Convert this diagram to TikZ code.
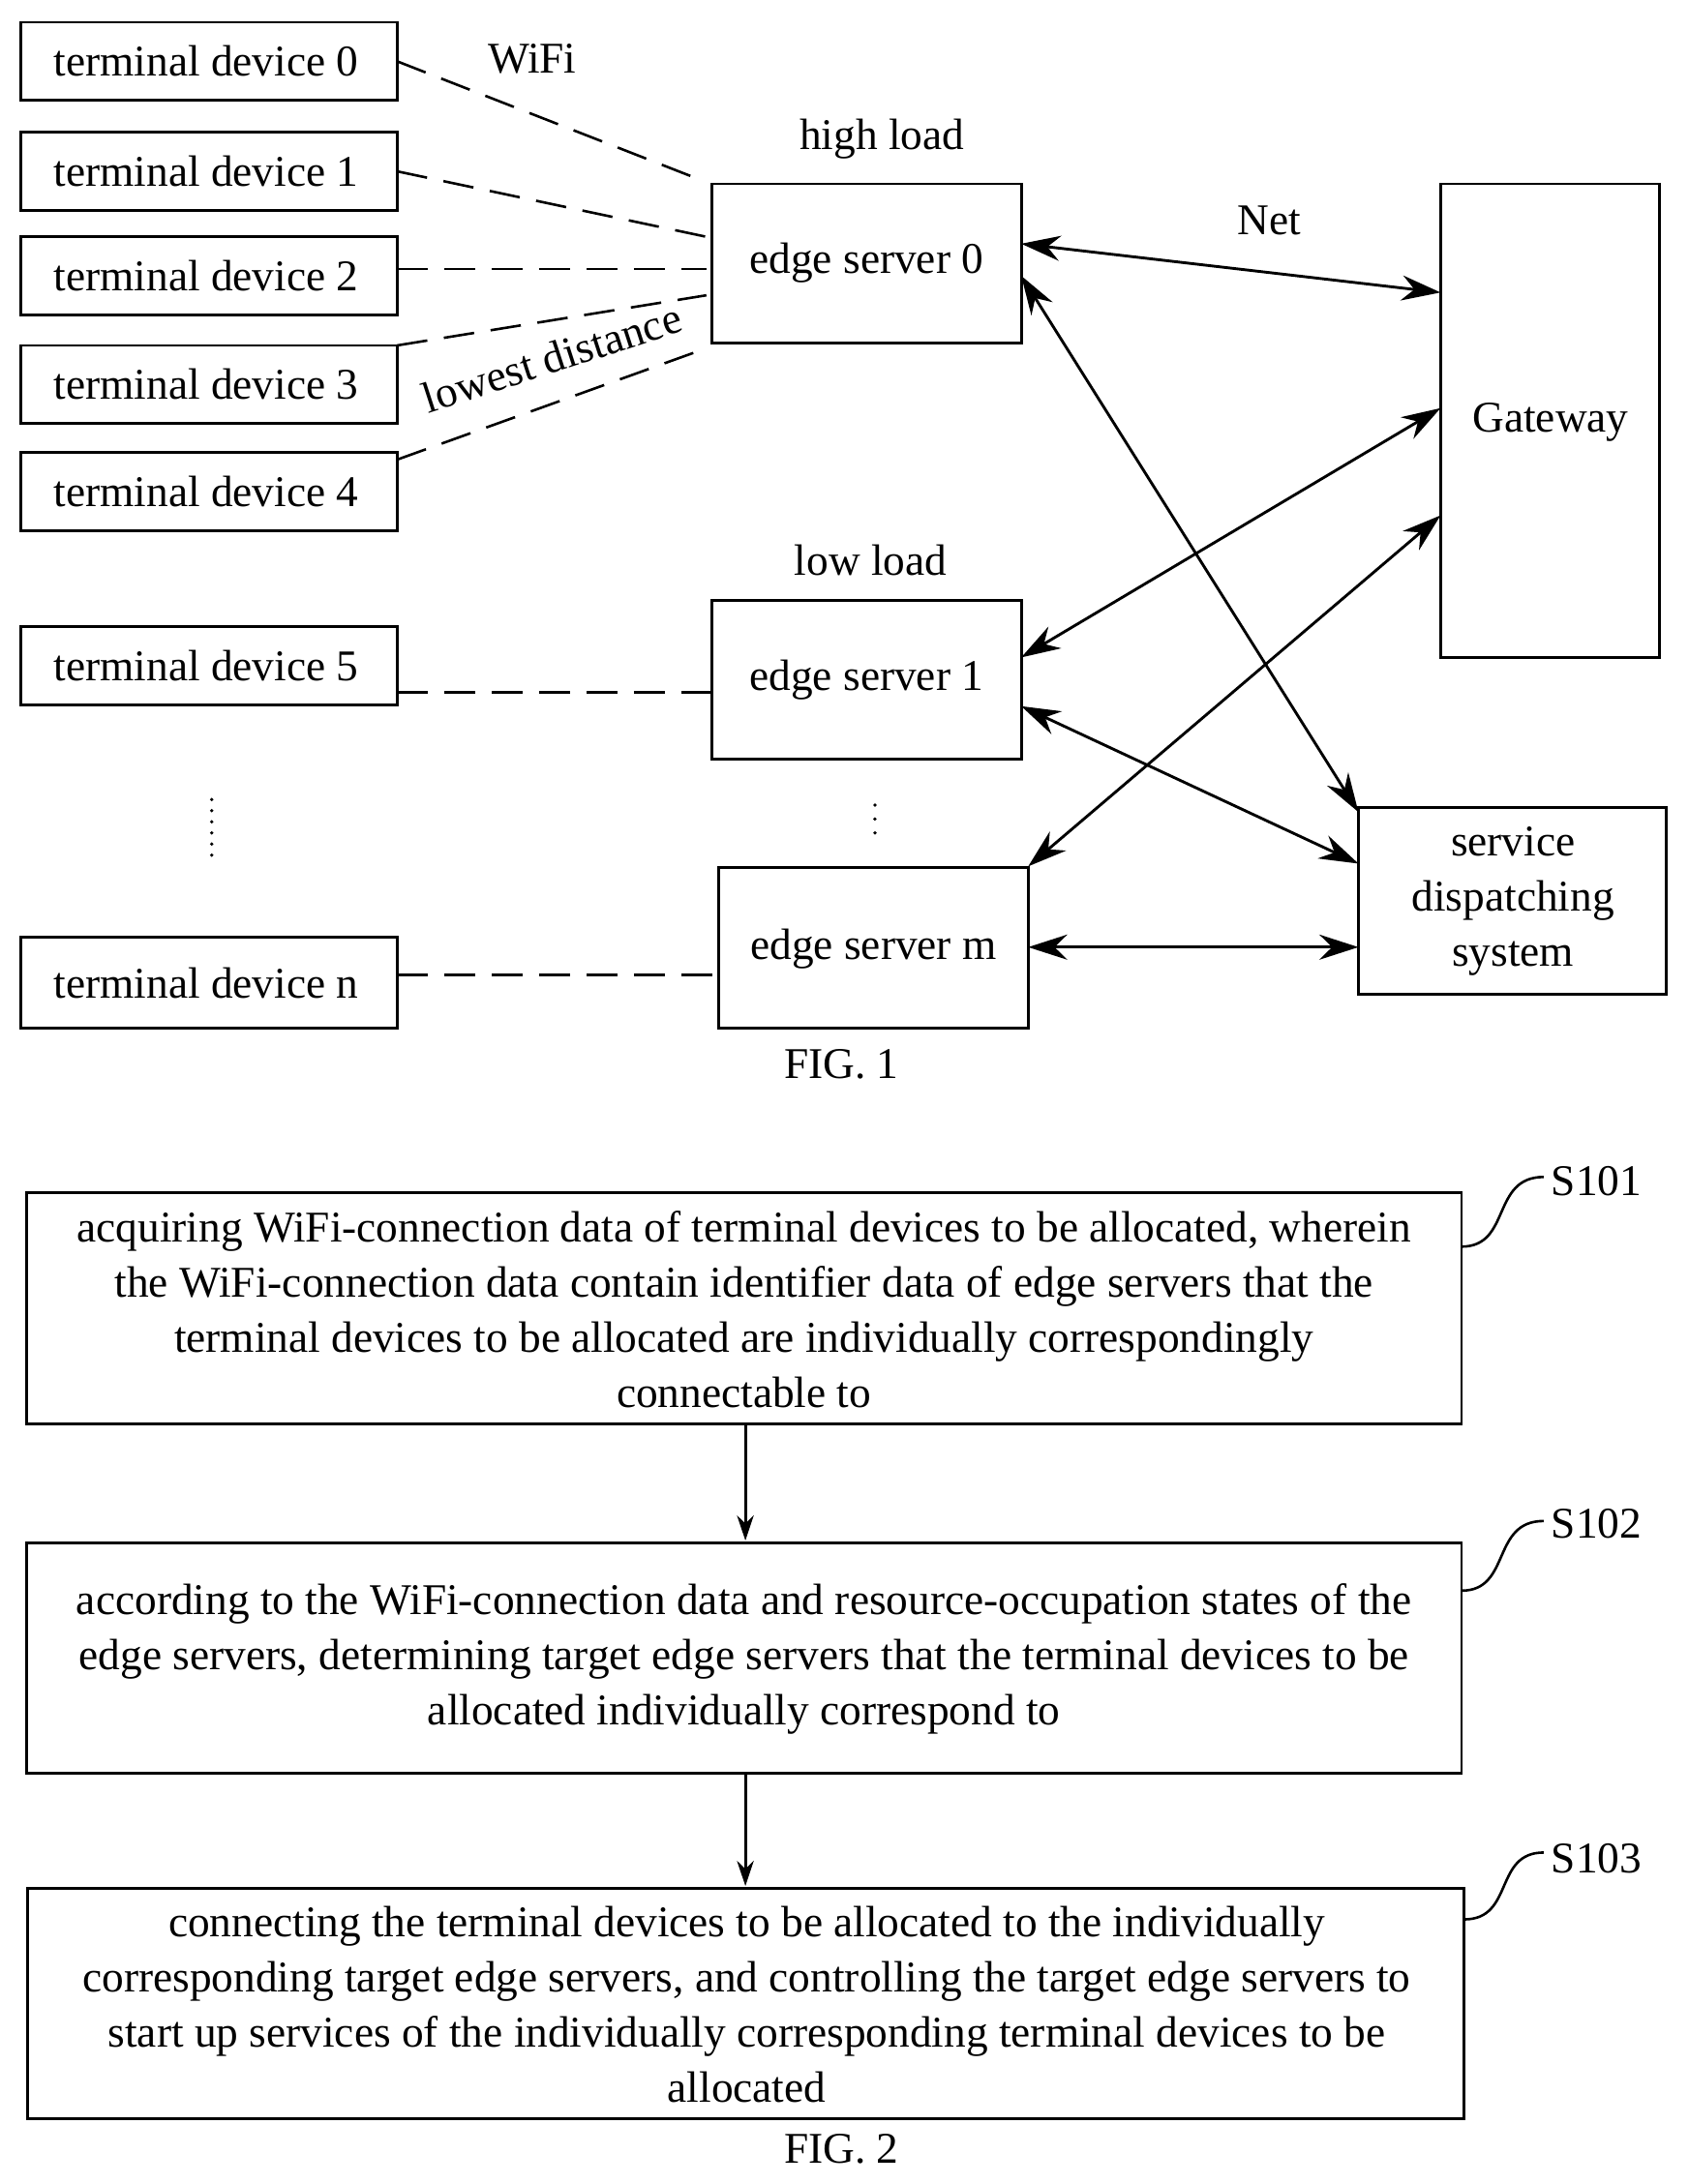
\documentclass[tikz,border=0pt]{standalone}
\usepackage{fontspec}
\setmainfont{Liberation Serif}
\usetikzlibrary{arrows.meta}
\begin{document}
\begin{tikzpicture}[x=1pt,y=-1pt,
  box/.style={draw,line width=2pt,inner sep=0pt},
  txt/.style={font=\fontsize{31.5}{39.5}\selectfont,align=center,inner sep=0pt},
  wdash/.style={line width=1.8pt,dash pattern=on 22pt off 12pt},
  dbl/.style={line width=2pt,{Stealth[length=28pt,width=18pt]}-{Stealth[length=28pt,width=18pt]}},
  arr/.style={line width=2pt,-{Stealth[length=18pt,width=12pt]}}]
\useasboundingbox (0,0) rectangle (1212,1568);
% terminal devices
\foreach \n/\a/\b in {0/16/72,1/95/151,2/170/226,3/248/304,4/325/381,5/450/506,n/673/738}{
  \draw[box] (15,\a) rectangle (285,\b);
  \node[txt] (td\n) at (148,{(\a+\b)/2}) {terminal device \n};
}
% edge servers
\draw[box] (511,132) rectangle (733,246); \node[txt] (es0) at (622,189) {edge server 0};
\draw[box] (511,431) rectangle (733,545); \node[txt] (es1) at (622,488) {edge server 1};
\draw[box] (516,623) rectangle (738,738); \node[txt] (esm) at (627,681) {edge server m};
\draw[box] (1034,132) rectangle (1191,472); \node[txt] (gw) at (1113,303) {Gateway};
\draw[box] (975,580) rectangle (1196,714); \node[txt] (sds) at (1086,647) {service\\dispatching\\system};
% dashed
\coordinate (a0) at (285,44); \coordinate (b0) at (505,130);
\coordinate (a1) at (285,123); \coordinate (b1) at (507,170);
\coordinate (a2) at (285,193); \coordinate (b2) at (507,193);
\coordinate (a3) at (285,248); \coordinate (b3) at (507,212);
\coordinate (a4) at (285,330); \coordinate (b4) at (507,250);
\coordinate (a5) at (285,497); \coordinate (b5) at (511,497);
\coordinate (an) at (285,700); \coordinate (bn) at (516,700);
\foreach \i in {0,1,2,3,4,5,n}{\draw[wdash] (a\i) -- (b\i);}
\node[txt] (wifi) at (382,42) {WiFi};
\node[txt] (hl) at (633,100) {high load};
\node[txt] (ll) at (625,402) {low load};
\node[txt] (net) at (911,158) {Net};
\node[txt,rotate=18] (ld) at (396,257) {lowest distance};
\node[txt] (f1) at (604,764) {FIG. 1};
% solid arrows
\draw[dbl] (733,175) -- (1034,210);
\draw[dbl] (733,198) -- (975,583);
\draw[dbl] (1034,293) -- (733,472);
\draw[dbl] (733,507) -- (975,620);
\draw[dbl] (1034,370) -- (738,622);
\draw[dbl] (738,680) -- (975,680);
% dots
\foreach \y in {574,582,590,598,606,614}{\fill (152,\y) circle (1.3pt);}
\foreach \y in {578,588,598}{\fill (628,\y) circle (1.3pt);}
% FIG 2
\draw[box] (19,856) rectangle (1049,1022);
\node[txt] (s1) at (534,940) {acquiring WiFi-connection data of terminal devices to be allocated, wherein\\the WiFi-connection data contain identifier data of edge servers that the\\terminal devices to be allocated are individually correspondingly\\connectable to};
\draw[box] (19,1108) rectangle (1049,1273);
\node[txt] (s2) at (534,1191) {according to the WiFi-connection data and resource-occupation states of the\\edge servers, determining target edge servers that the terminal devices to be\\allocated individually correspond to};
\draw[box] (20,1356) rectangle (1051,1521);
\node[txt] (s3) at (536,1439) {connecting the terminal devices to be allocated to the individually\\corresponding target edge servers, and controlling the target edge servers to\\start up services of the individually corresponding terminal devices to be\\allocated};
\draw[arr] (535,1022) -- (535,1106);
\draw[arr] (535,1273) -- (535,1354);
\node[txt] (l1) at (1146,848) {S101};
\node[txt] (l2) at (1146,1094) {S102};
\node[txt] (l3) at (1146,1334) {S103};
\draw[line width=1.8pt] (1049,895) .. controls (1085,895) and (1070,845) .. (1108,845);
\draw[line width=1.8pt] (1049,1142) .. controls (1085,1142) and (1070,1092) .. (1108,1092);
\draw[line width=1.8pt] (1051,1378) .. controls (1087,1378) and (1072,1330) .. (1108,1330);
\node[txt] (f2) at (604,1543) {FIG. 2};
\end{tikzpicture}
\end{document}
